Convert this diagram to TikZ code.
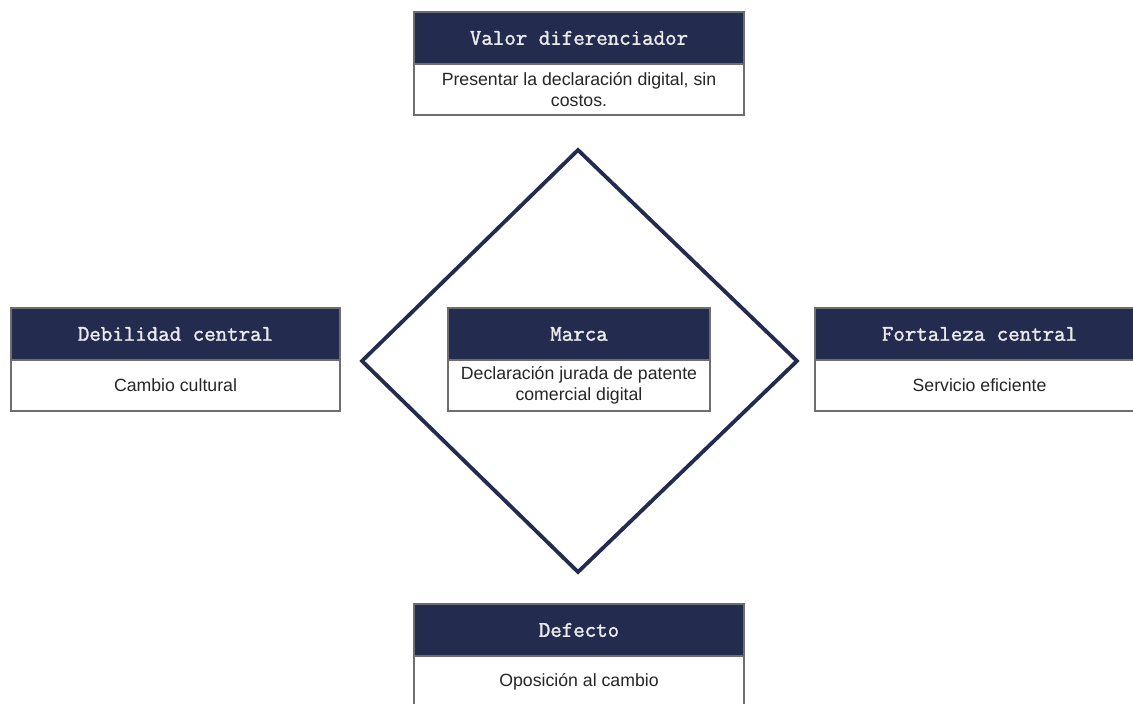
\documentclass[tikz,border=0pt]{standalone}
\usepackage{fontspec}
\setmainfont{Liberation Sans}
\newfontfamily\cabecera[FakeBold=1.6]{Latin Modern Mono}
\usetikzlibrary{positioning}

\definecolor{navy}{HTML}{232B4F}
\definecolor{borde}{HTML}{6E6E6E}

\begin{document}
\begin{tikzpicture}[x=1pt, y=1pt,
    head/.style={rectangle, draw=borde, line width=1.2pt, fill=navy, text=white!92!black, font=\cabecera\fontsize{22.3}{24}\selectfont, minimum height=52pt, inner sep=0pt, outer sep=0pt},
    body/.style={rectangle, draw=borde, line width=1.2pt, fill=white, text=black!85, font=\fontsize{17.7}{21}\selectfont, align=center, minimum height=51pt, inner sep=0pt, outer sep=0pt},
    rombo/.style={draw=navy, line width=3.8pt, line join=miter}]

    \path[fill=white, use as bounding box] (0,0) rectangle (1133,704);

    % diamond behind the brand box
    \draw[rombo] (578,554) -- (797,343) -- (578,132) -- (362,343) -- cycle;

    \node [head, minimum width=330] (valor) at (579,666) {Valor diferenciador};
    \node [body, minimum width=330, below=0pt of valor] (valorTxt) {Presentar la declaración digital, sin\\costos.};

    \node [head, minimum width=329] (debil) at (175.5,370) {Debilidad central};
    \node [body, minimum width=329, below=0pt of debil] (debilTxt) {Cambio cultural};

    \node [head, minimum width=262] (marca) at (579,370) {Marca};
    \node [body, minimum width=262, below=0pt of marca] (marcaTxt) {Declaración jurada de patente\\comercial digital};

    \node [head, minimum width=329] (fuerte) at (979.5,370) {Fortaleza central};
    \node [body, minimum width=329, below=0pt of fuerte] (fuerteTxt) {Servicio eficiente};

    \node [head, minimum width=330] (defecto) at (579,74) {Defecto};
    \node [body, minimum width=330, below=0pt of defecto] (defectoTxt) {Oposición al cambio};
\end{tikzpicture}
\end{document}
